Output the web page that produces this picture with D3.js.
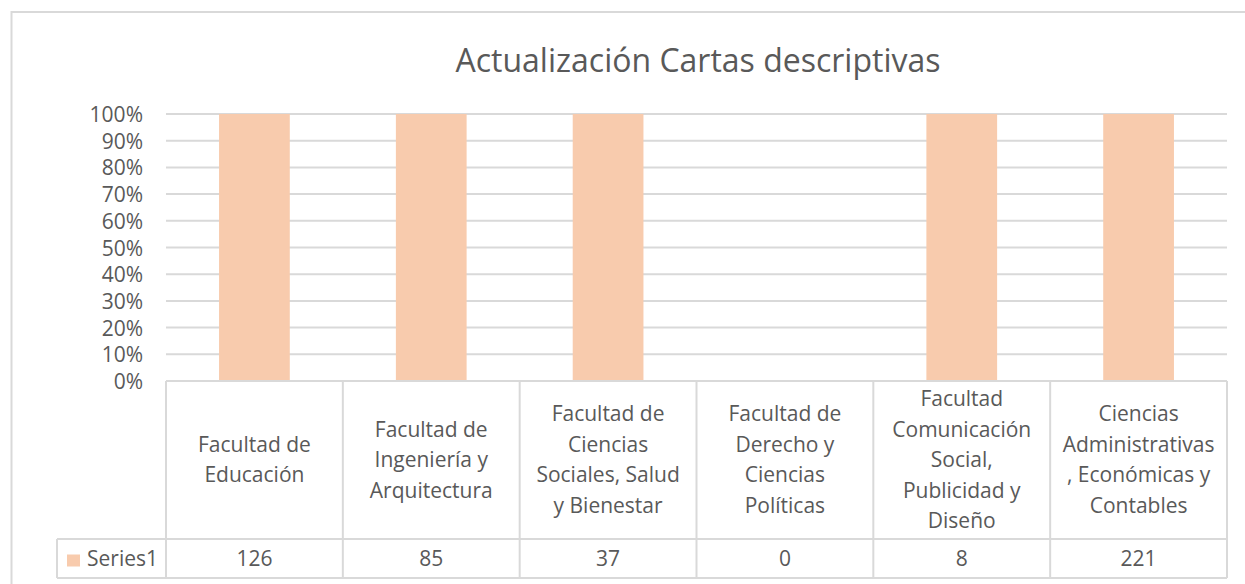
<!DOCTYPE html>
<html>
<head>
<meta charset="utf-8">
<script src="https://cdn.jsdelivr.net/npm/d3@7"></script>
<style>
  body { margin: 0; background: #fff; }
  text { font-family: "Open Sans", Lato, sans-serif; fill: #595959; }
</style>
</head>
<body>
<div id="chart"></div>
<script>
// chart data
const title = "Actualización Cartas descriptivas";
const categories = [
  "Facultad de\nEducación",
  "Facultad de\nIngeniería y\nArquitectura",
  "Facultad de\nCiencias\nSociales, Salud\ny Bienestar",
  "Facultad de\nDerecho y\nCiencias\nPolíticas",
  "Facultad\nComunicación\nSocial,\nPublicidad y\nDiseño",
  "Ciencias\nAdministrativas\n, Económicas y\nContables"
];
const seriesName = "Series1";
const seriesValues = [126, 85, 37, 0, 8, 221];
const yTicks = [0, 0.1, 0.2, 0.3, 0.4, 0.5, 0.6, 0.7, 0.8, 0.9, 1];

const W = 1245, H = 584;
const margin = {top: 114, left: 166, right: 18};
const plotBottom = 381;
const headerBottom = 539;
const rowBottom = 578;
const legendLeft = 57;
const gridColor = "#d9d9d9";
const barColor = "#f8cbad";
const fontSize = "21px";

const svg = d3.select("#chart").append("svg")
    .attr("width", W)
    .attr("height", H);

// outer chart border (runs off the right/bottom like the screenshot)
svg.append("rect")
    .attr("x", 11.5).attr("y", 12)
    .attr("width", 1260).attr("height", 600)
    .attr("fill", "none")
    .attr("stroke", gridColor)
    .attr("stroke-width", 2);

// title
svg.append("text")
    .attr("x", 698).attr("y", 72)
    .attr("text-anchor", "middle")
    .style("font-size", "32px")
    .text(title);

let x = d3.scaleBand()
    .domain(d3.range(categories.length))
    .range([margin.left, W - margin.right])
    .paddingInner(0.6)
    .paddingOuter(0.3);

let y = d3.scaleLinear()
    .domain([0, 1])
    .range([plotBottom, margin.top]);

// gridlines
svg.append("g").selectAll("line")
    .data(yTicks.slice(1))
    .join("line")
    .attr("x1", margin.left).attr("x2", W - margin.right)
    .attr("y1", d => y(d)).attr("y2", d => y(d))
    .attr("stroke", gridColor)
    .attr("stroke-width", 2);

// y axis labels
let yAxis = d3.axisLeft(y)
    .tickValues(yTicks)
    .tickFormat(d3.format(".0%"))
    .tickSize(0)
    .tickPadding(23);

let yg = svg.append("g")
    .attr("transform", `translate(${margin.left},0)`)
    .call(yAxis);
yg.select(".domain").remove();
yg.selectAll("text")
    .attr("dy", "0.36em")
    .style("font-size", fontSize)
    .style("font-family", "'Open Sans', sans-serif")
    .attr("fill", "#595959");

// 100% stacked: single series, so each bar is its share of the category total
let shares = seriesValues.map(v => v > 0 ? v / v : 0);

svg.append("g").selectAll("rect")
    .data(shares)
    .join("rect")
    .attr("x", (d, i) => x(i))
    .attr("y", d => y(d))
    .attr("width", x.bandwidth())
    .attr("height", d => plotBottom - y(d))
    .attr("fill", barColor);

// data table
let step = x.step();
let colEdges = d3.range(categories.length + 1).map(i => margin.left + i * step);
let table = svg.append("g")
    .attr("stroke", gridColor)
    .attr("stroke-width", 2);

table.append("line")
    .attr("x1", margin.left).attr("x2", W - margin.right)
    .attr("y1", plotBottom).attr("y2", plotBottom);
table.append("line")
    .attr("x1", legendLeft).attr("x2", W - margin.right)
    .attr("y1", headerBottom).attr("y2", headerBottom);
table.append("line")
    .attr("x1", legendLeft).attr("x2", W - margin.right)
    .attr("y1", rowBottom).attr("y2", rowBottom);
table.append("line")
    .attr("x1", legendLeft).attr("x2", legendLeft)
    .attr("y1", headerBottom).attr("y2", rowBottom);
table.selectAll(".vline")
    .data(colEdges)
    .join("line")
    .attr("class", "vline")
    .attr("x1", d => d).attr("x2", d => d)
    .attr("y1", plotBottom).attr("y2", rowBottom);

// category headers
let lineH = 30.5;
let headerMid = (plotBottom + headerBottom) / 2;
categories.forEach((c, i) => {
    let lines = c.split("\n");
    let cx = x(i) + x.bandwidth() / 2;
    let t = svg.append("text")
        .attr("text-anchor", "middle")
        .style("font-size", fontSize);
    lines.forEach((ln, j) => {
        t.append("tspan")
            .attr("x", cx)
            .attr("y", headerMid + (j - (lines.length - 1) / 2) * lineH + 7)
            .text(ln);
    });
});

// value row
let rowMid = (headerBottom + rowBottom) / 2;
svg.append("g").selectAll("text")
    .data(seriesValues)
    .join("text")
    .attr("x", (d, i) => x(i) + x.bandwidth() / 2)
    .attr("y", rowMid + 7.5)
    .attr("text-anchor", "middle")
    .style("font-size", fontSize)
    .text(d => d);

// legend key
svg.append("rect")
    .attr("x", 67).attr("y", rowMid - 4)
    .attr("width", 13).attr("height", 12)
    .attr("fill", barColor);
svg.append("text")
    .attr("x", 87).attr("y", rowMid + 7.5)
    .style("font-size", fontSize)
    .text(seriesName);
</script>
</body>
</html>
